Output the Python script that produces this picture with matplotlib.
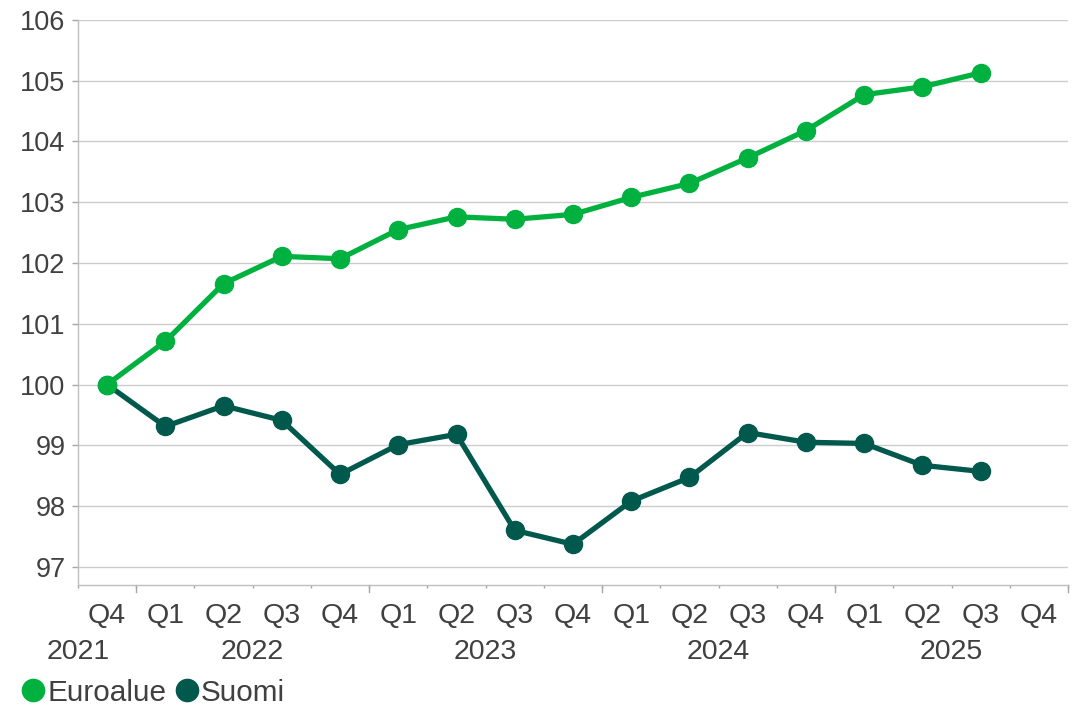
import matplotlib.pyplot as plt
from matplotlib.lines import Line2D
from matplotlib.transforms import blended_transform_factory

# Data (index, 2021 Q4 = 100)
quarters = ["Q4", "Q1", "Q2", "Q3", "Q4", "Q1", "Q2", "Q3", "Q4",
            "Q1", "Q2", "Q3", "Q4", "Q1", "Q2", "Q3", "Q4"]
years = ["2021", "2022", "2023", "2024", "2025"]
year_centers = [-0.5, 2.5, 6.5, 10.5, 14.5]   # category positions of the year labels
year_bounds = [0.5, 4.5, 8.5, 12.5, 16.5]  # long ticks between years

euroalue = [100.0, 100.71, 101.66, 102.11, 102.07, 102.55, 102.76, 102.72, 102.80,
            103.08, 103.31, 103.73, 104.18, 104.77, 104.90, 105.13]
suomi = [100.0, 99.31, 99.65, 99.41, 98.52, 99.01, 99.18, 97.60, 97.37,
         98.08, 98.47, 99.21, 99.05, 99.03, 98.67, 98.57]

green = "#00B140"
dark = "#00594C"
txt = "#404040"

plt.rcParams["font.family"] = ["Liberation Sans", "DejaVu Sans"]

fig = plt.figure(figsize=(10.86, 7.11), dpi=100)
ax = fig.add_axes([0.0718, 0.1772, 0.9116, 0.7947])

x = list(range(len(euroalue)))
ax.plot(x, suomi, color=dark, lw=3.8, marker="o", ms=13, zorder=3)
ax.plot(x, euroalue, color=green, lw=3.8, marker="o", ms=13, zorder=4)

ax.set_xlim(-0.5, len(quarters) - 0.5)
ax.set_ylim(96.7, 106)
ax.set_yticks(range(97, 107))
ax.tick_params(axis="y", labelsize=19.5, colors="#A6A6A6", labelcolor=txt, length=4.5, width=1, pad=4.5)
ax.grid(axis="y", color="#CCCCCC", lw=1)
ax.set_axisbelow(True)

for s in ["top", "right"]:
    ax.spines[s].set_visible(False)
for s in ["left", "bottom"]:
    ax.spines[s].set_color("#BFBFBF")
    ax.spines[s].set_linewidth(1)

# short ticks between quarters, long ticks between years
minor = [i - 0.5 for i in range(len(quarters) + 1)]
ax.set_xticks(minor)
ax.set_xticklabels([])
ax.tick_params(axis="x", length=2.5, width=1, colors="#A6A6A6", direction="out")
trans = blended_transform_factory(ax.transData, ax.transAxes)
for b in year_bounds:
    ax.plot([b, b], [0, -0.012], transform=trans, color="#A6A6A6", lw=1, clip_on=False)

for i, q in enumerate(quarters):
    ax.text(i, -0.055, q, transform=trans, ha="center", va="center", fontsize=20.5, color=txt)
for c, y in zip(year_centers, years):
    ax.text(c, -0.119, y, transform=trans, ha="center", va="center", fontsize=20.5, color=txt)

handles = [Line2D([], [], color=green, marker="o", ms=16, lw=0),
           Line2D([], [], color=dark, marker="o", ms=16, lw=0)]
fig.legend(handles, ["Euroalue", "Suomi"], loc="center left", bbox_to_anchor=(0.0, 0.026),
           ncol=2, frameon=False, fontsize=21.4, handlelength=0.85, handletextpad=0.05,
           columnspacing=0.25, labelcolor=txt, borderpad=0.2)

fig.savefig("out.png", dpi=100)
